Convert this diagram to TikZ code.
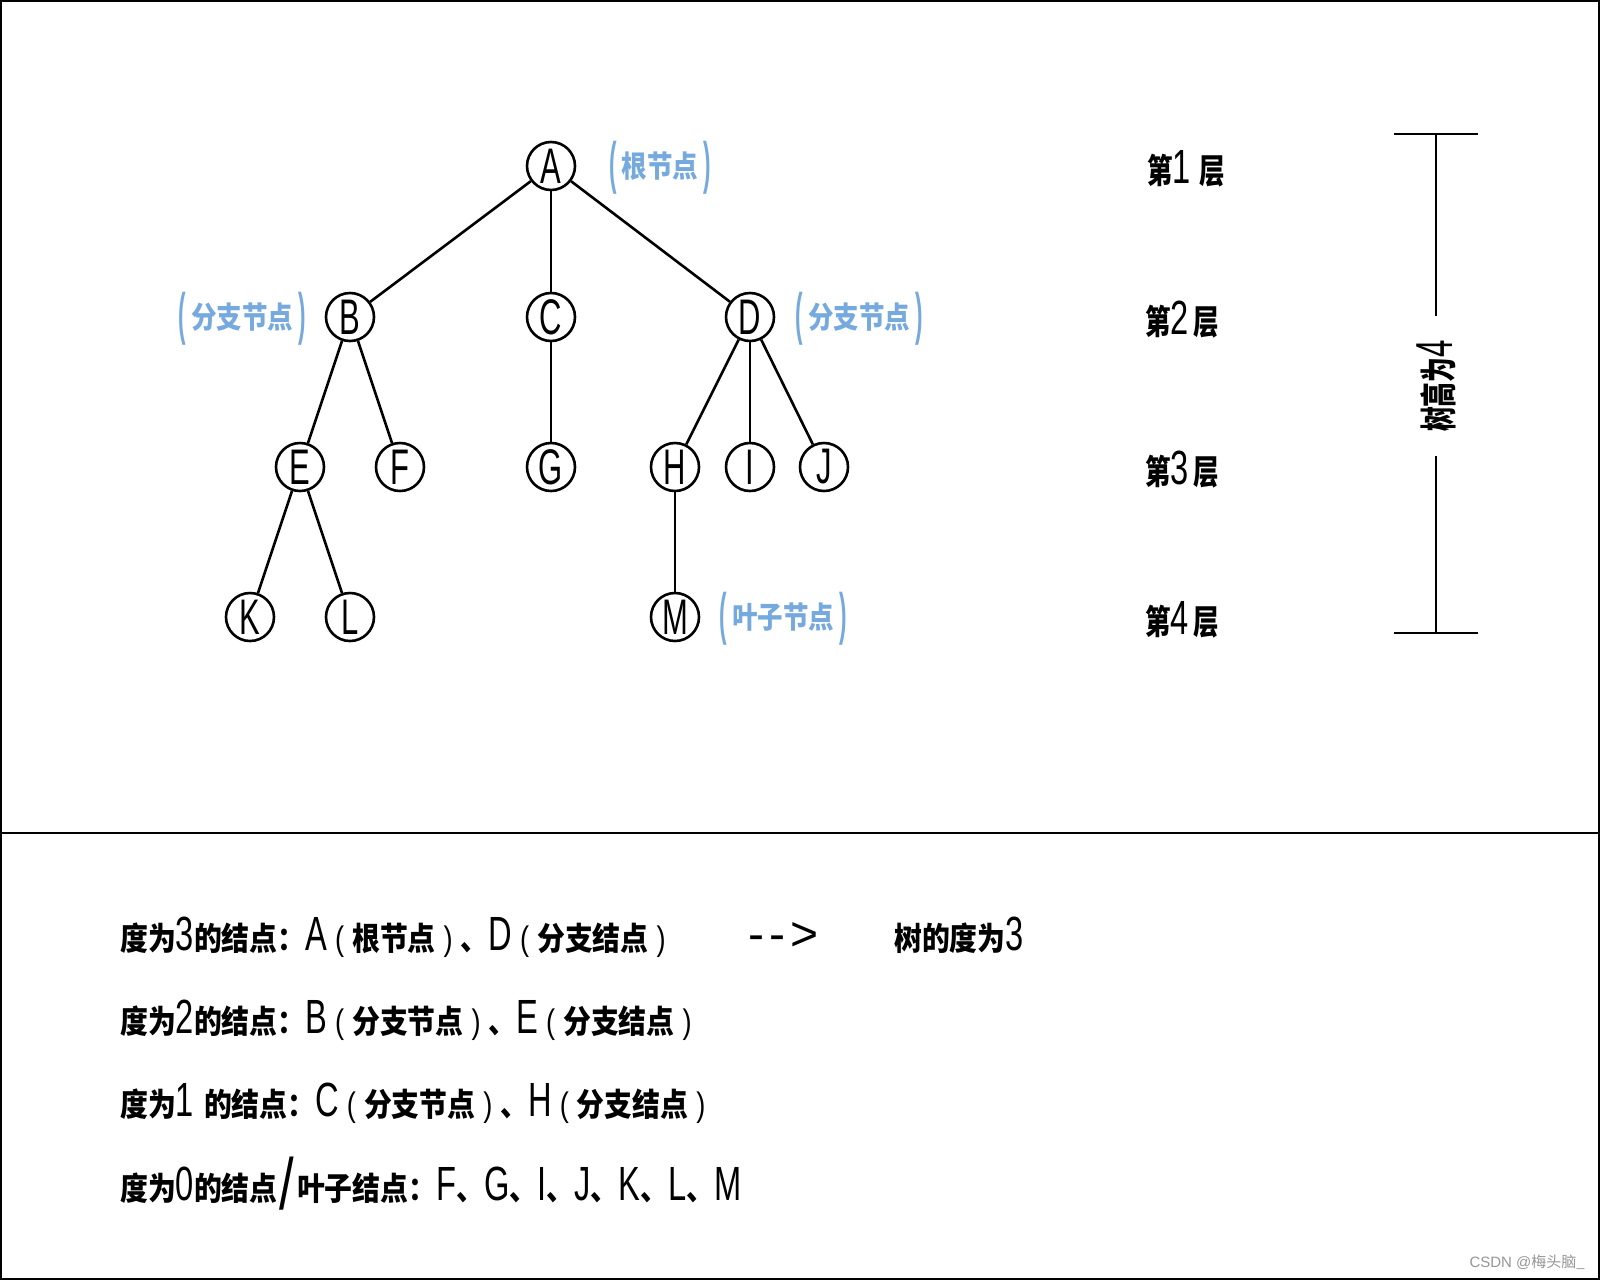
\documentclass[tikz,border=0pt]{standalone}
\usepackage{fontspec}
\setmainfont{Liberation Sans}
\newfontfamily\cjk{Noto Sans CJK SC}
\definecolor{lblue}{RGB}{118,170,222}
\definecolor{wmgray}{RGB}{150,150,150}
% node letters
\newcommand\nn[1]{{\fontsize{50}{50}\selectfont\scalebox{0.62}[1]{#1}}}
% thin latin in text
\newcommand\lt[1]{{\fontsize{48}{48}\selectfont\scalebox{0.68}[1]{#1}}}
% bold cjk, bottom text
\newcommand\cb[1]{{\cjk\bfseries\fontsize{32}{32}\selectfont\scalebox{0.87}[1]{#1}}}
% bottom-text parentheses
\newcommand\po{\hspace{8pt}{\fontsize{34}{34}\selectfont\scalebox{0.8}[1]{(}}\hspace{8pt}}
\newcommand\pc{\hspace{8pt}{\fontsize{34}{34}\selectfont\scalebox{0.8}[1]{)}}\hspace{8pt}}
% bold cjk, layer labels
\newcommand\lb[1]{{\cjk\bfseries\fontsize{34}{34}\selectfont\scalebox{0.75}[1]{#1}}}
% blue labels
\newcommand\bc[1]{{\cjk\bfseries\fontsize{30}{30}\selectfont\scalebox{0.85}[1]{#1}}}
\newcommand\bpar[1]{\raisebox{-5pt}{\fontsize{30}{30}\selectfont\bfseries\scalebox{0.75}[1.9]{#1}}}
\tikzset{
  tn/.style={circle, draw, line width=2.6pt, minimum size=48pt, inner sep=0pt},
  edg/.style={line width=2.6pt},
  blab/.style={text=lblue, inner sep=0pt, anchor=base},
  lay/.style={inner sep=0pt, anchor=base west},
  bot/.style={inner sep=0pt, anchor=base west},
  rule/.style={line width=2.5pt},
}
\begin{document}
\begin{tikzpicture}[x=1pt,y=-1pt]
\useasboundingbox (0,0) rectangle (1600,1280);
\fill[white] (0,0) rectangle (1600,1280);
\draw[line width=2.4pt] (1.2,1.2) rectangle (1598.8,1278.8);
\coordinate (dl) at (0,833);
\coordinate (dr) at (1600,833);
\draw[line width=2.4pt] (dl) -- (dr);

% tree nodes
\node[tn] (A) at (551,166) {\nn{A}};
\node[tn] (B) at (350,317) {\nn{B}};
\node[tn] (C) at (551,317) {\nn{C}};
\node[tn] (D) at (750,317) {\nn{D}};
\node[tn] (E) at (300,467) {\nn{E}};
\node[tn] (F) at (400,467) {\nn{F}};
\node[tn] (G) at (551,467) {\nn{G}};
\node[tn] (H) at (675,467) {\nn{H}};
\node[tn] (I) at (750,467) {\nn{I}};
\node[tn] (J) at (824,467) {\nn{J}};
\node[tn] (K) at (250,617) {\nn{K}};
\node[tn] (L) at (350,617) {\nn{L}};
\node[tn] (M) at (675,617) {\nn{M}};

\draw[edg] (A) -- (B);
\draw[edg] (A) -- (C);
\draw[edg] (A) -- (D);
\draw[edg] (B) -- (E);
\draw[edg] (B) -- (F);
\draw[edg] (C) -- (G);
\draw[edg] (D) -- (H);
\draw[edg] (D) -- (I);
\draw[edg] (D) -- (J);
\draw[edg] (E) -- (K);
\draw[edg] (E) -- (L);
\draw[edg] (H) -- (M);

% blue labels
\node[blab] (la) at (660,177) {\bpar{(}\hspace{5pt}\bc{根节点}\hspace{5pt}\bpar{)}};
\node[blab] (lb) at (242,328) {\bpar{(}\hspace{5pt}\bc{分支节点}\hspace{5pt}\bpar{)}};
\node[blab] (ld) at (859,328) {\bpar{(}\hspace{5pt}\bc{分支节点}\hspace{5pt}\bpar{)}};
\node[blab] (lm) at (783,628) {\bpar{(}\hspace{5pt}\bc{叶子节点}\hspace{5pt}\bpar{)}};

% layer labels
\node[lay] (l1) at (1147,183) {\lb{第}\lt{1}\hspace{9pt}\lb{层}};
\node[lay] (l2) at (1145,334) {\lb{第}\lt{2}\hspace{5pt}\lb{层}};
\node[lay] (l3) at (1145,484) {\lb{第}\lt{3}\hspace{5pt}\lb{层}};
\node[lay] (l4) at (1145,634) {\lb{第}\lt{4}\hspace{5pt}\lb{层}};

% height bracket
\coordinate (bt) at (1436,134);
\coordinate (bb) at (1436,633);
\coordinate (btl) at (1394,134);
\coordinate (btr) at (1478,134);
\coordinate (bbl) at (1394,633);
\coordinate (bbr) at (1478,633);
\node[rotate=90, inner xsep=24pt, inner ysep=0pt] (hgt) at (1436,386)
  {{\cjk\bfseries\fontsize{37}{37}\selectfont\scalebox{0.67}[1]{树高为}}{\fontsize{52}{52}\selectfont\scalebox{0.6}[1]{4}}};
\draw[rule] (btl) -- (btr);
\draw[rule] (bbl) -- (bbr);
\draw[rule] (bt) -- (hgt.east);
\draw[rule] (hgt.west) -- (bb);

% bottom text
\node[bot] (t1) at (120,950) {\cb{度为}\lt{3}\cb{的结点：}\lt{A}\po\cb{根节点}\pc\cb{、}\lt{D}\po\cb{分支结点}\pc};
\node[bot] (ar) at (748,950) {{\fontsize{48}{48}\selectfont -\hspace{5pt}-\hspace{5pt}>}};
\node[bot] (tr) at (894,950) {\cb{树的度为}\lt{3}};
\node[bot] (t2) at (120,1033) {\cb{度为}\lt{2}\cb{的结点：}\lt{B}\po\cb{分支节点}\pc\cb{、}\lt{E}\po\cb{分支结点}\pc};
\node[bot] (t3) at (120,1116) {\cb{度为}\lt{1}\hspace{10pt}\cb{的结点：}\lt{C}\po\cb{分支节点}\pc\cb{、}\lt{H}\po\cb{分支结点}\pc};
\node[bot] (t4) at (120,1200) {\cb{度为}\lt{0}\cb{的结点}\hspace{2pt}{\fontsize{50}{50}\selectfont\raisebox{-9pt}{\scalebox{1.05}[1.45]{/}}}\hspace{3pt}\cb{叶子结点：}\lt{F}\cb{、}\lt{G}\cb{、}\lt{I}\cb{、}\lt{J}\cb{、}\lt{K}\cb{、}\lt{L}\cb{、}\lt{M}};

% watermark
\node[anchor=east, inner sep=0pt, text=wmgray] (wm) at (1585,1262) {{\fontsize{15}{15}\selectfont CSDN @\cjk 梅头脑\_}};
\end{tikzpicture}
\end{document}
